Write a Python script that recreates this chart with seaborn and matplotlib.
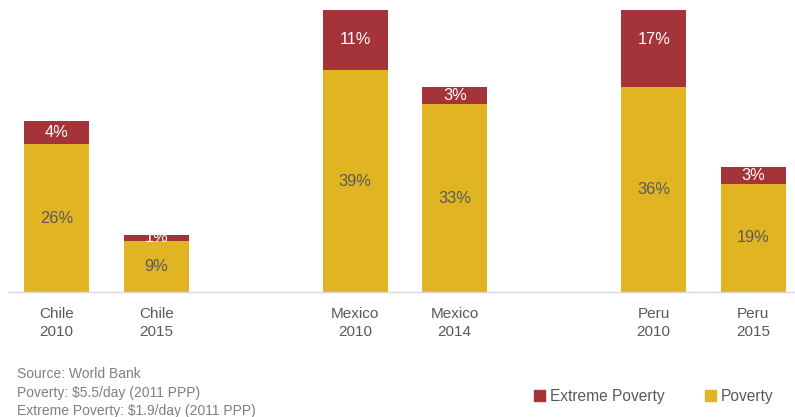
import pandas as pd
import seaborn as sns
import matplotlib.pyplot as plt
from matplotlib.patches import Patch

# data
countries = ["Chile", "Chile", "Mexico", "Mexico", "Peru", "Peru"]
years = ["2010", "2015", "2010", "2014", "2010", "2015"]
poverty = [26, 9, 39, 33, 36, 19]
extreme = [4, 1, 11, 3, 17, 3]

RED = "#A5343A"
GOLD = "#E0B422"
GREY = "#595959"


def main():
    labels = [f"{c}\n{y}" for c, y in zip(countries, years)]
    df = pd.DataFrame({"label": labels, "poverty": poverty, "extreme": extreme})
    df["total"] = df["poverty"] + df["extreme"]

    # blank slots keep the gap between countries
    order = labels[:2] + [" "] + labels[2:4] + ["  "] + labels[4:]

    sns.set_style("white")
    plt.rcParams["font.family"] = ["Liberation Sans", "DejaVu Sans"]

    fig = plt.figure(figsize=(7.95, 4.17), dpi=100)
    ax = fig.add_axes([0.01, 0.2998, 0.99, 0.6762])

    sns.barplot(data=df, x="label", y="total", order=order, color=RED,
                saturation=1, width=0.65, linewidth=0, ax=ax)
    sns.barplot(data=df, x="label", y="poverty", order=order, color=GOLD,
                saturation=1, width=0.65, linewidth=0, ax=ax)

    for _, row in df.iterrows():
        i = order.index(row["label"])
        ax.text(i, row["poverty"] / 2, f"{row['poverty']}%", ha="center",
                va="center", fontsize=11.8, color=GREY)
        ax.text(i, row["poverty"] + row["extreme"] / 2, f"{row['extreme']}%",
                ha="center", va="center", fontsize=11.8, color="white")

    ax.set_ylim(0, 49.6)
    ax.set_xlim(-0.49, 7.42)
    ax.set_yticks([])
    ax.set_xlabel("")
    ax.set_ylabel("")
    for s in ["top", "right", "left"]:
        ax.spines[s].set_visible(False)
    ax.spines["bottom"].set_color("#D9D9D9")
    ax.spines["bottom"].set_linewidth(1)
    ax.tick_params(axis="x", length=0, pad=11, labelsize=11,
                   labelcolor=GREY)
    for t in ax.get_xticklabels():
        t.set_linespacing(1.3)

    # the reference crops the last footnote line at the bottom edge
    fig.text(0.021, 0.058, "Source: World Bank\nPoverty: $5.5/day (2011 PPP)\n"
             "Extreme Poverty: $1.9/day (2011 PPP)", fontsize=10,
             color="#7F7F7F", va="center", linespacing=1.4)

    handles = [Patch(color=RED, label="Extreme Poverty"),
               Patch(color=GOLD, label="Poverty")]
    fig.legend(handles=handles, loc="center right", bbox_to_anchor=(0.99, 0.05),
               ncol=2, frameon=False, fontsize=11.2, handlelength=0.7,
               handleheight=0.7, handletextpad=0.3, columnspacing=2.6,
               labelcolor=GREY)

    fig.savefig("out.png", dpi=100)
    plt.close(fig)


if __name__ == "__main__":
    main()
